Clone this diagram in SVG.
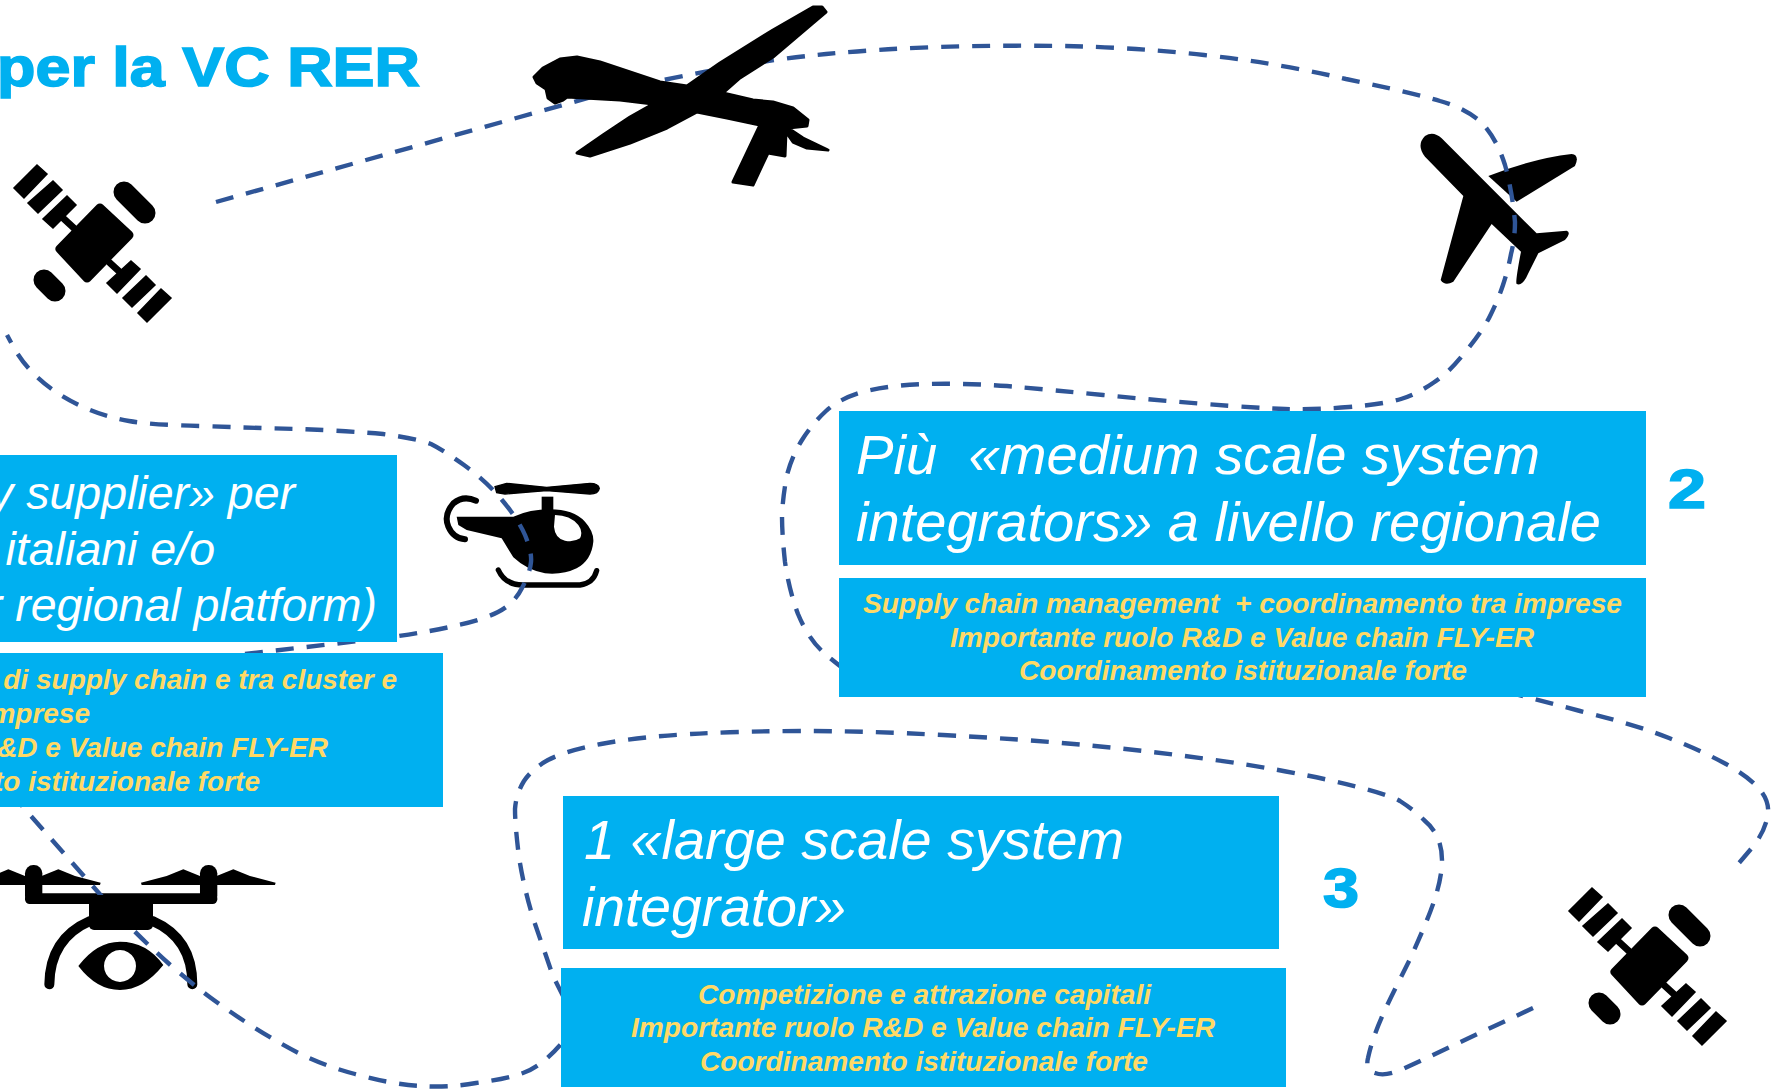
<svg xmlns="http://www.w3.org/2000/svg" width="1774" height="1091" viewBox="0 0 1774 1091">
<style>
.box{fill:#00B0F0}
.h{font-family:"Liberation Sans",Arial,sans-serif;font-style:italic;font-size:55px;fill:#fff}
.h2{font-size:46.5px}
.s{font-family:"Liberation Sans",Arial,sans-serif;font-style:italic;font-weight:bold;font-size:28px;fill:#FFD966}
.t{font-family:"Liberation Sans",Arial,sans-serif;font-weight:bold;font-size:56px;fill:#00B0F0;stroke:#00B0F0;stroke-width:1.6}
.c{fill:none;stroke:#2F5597;stroke-width:4.4;stroke-dasharray:18 13}
.k{fill:#000}
.l{fill:none;stroke:#000;stroke-linecap:round}
</style>
<defs>
<g id="sat">
<path class="k" stroke="#000" stroke-width="9" stroke-linejoin="round" d="M100,208L129,235L87,278L60,249Z"/>
<path class="k" stroke="#000" stroke-width="1.5" d="M37,165L47,174L24,198L14,188ZM53,181L62,190L38,213L28,203ZM67,196L76,205L53,228L43,219ZM131,261L140,269L117,293L107,283ZM146,276L155,285L132,307L123,298ZM161,289L171,298L147,322L138,313Z"/>
<path class="l" stroke-width="7" stroke-linecap="butt" d="M63,218L76,230M110,263L122,274"/>
<path class="l" stroke-width="21" d="M124,192L145,213M44,280L55,291"/>
</g>
</defs>
<rect width="1774" height="1091" fill="#fff"/>
<text class="t" x="-3" y="86" textLength="423" lengthAdjust="spacingAndGlyphs">per la VC RER</text>
<g id="node-sat-left"><use href="#sat"/></g>
<g id="node-sat-right"><use href="#sat" x="1555" y="723"/></g>
<g id="node-quad" transform="translate(0,850) scale(.3333)">
<path class="k" d="M125,78L175,58L225,78L302,98L300,105L125,105ZM75,78L25,58L-25,78L-102,98L-100,105L75,105ZM600,78L550,58L500,78L423,98L425,105L600,105ZM650,78L700,58L750,78L827,98L825,105L650,105Z"/>
<rect class="k" x="75" y="45" width="52" height="117" rx="25"/><rect class="k" x="600" y="45" width="52" height="117" rx="25"/><rect class="k" x="75" y="130" width="577" height="32" rx="14"/>
<path class="l" stroke-width="30" d="M270,213Q150,265 148,403M458,213Q577,265 577,403"/>
<path class="k" fill-rule="evenodd" d="M235,348Q290,275 360,275Q440,275 490,345Q430,420 360,420Q290,420 235,348ZM360,300a48,48 0 1 0 .1,0Z"/>
</g>
<g id="node-plane" transform="translate(1400,110) scale(.3333)">
<path class="k" d="M75,78Q100,62 125,85L410,370L500,362Q515,368 495,390L415,430L385,490Q368,530 350,522Q345,518 363,425L275,342L160,515Q135,530 122,510L190,258L75,140Q48,105 75,78Z"/>
<path class="k" d="M265,198Q400,145 515,132Q540,135 525,168L350,275Z"/>
</g>
<g id="node-heli" transform="translate(430,470) scale(.3333)">
<path class="k" stroke="#000" stroke-width="4" d="M195,50L230,40L350,52L480,40Q505,40 508,55Q505,72 480,72L350,62L225,72L200,68Z"/>
<rect class="k" x="335" y="80" width="35" height="45"/>
<path class="k" fill-rule="evenodd" d="M80,140L250,140Q300,118 360,118Q430,118 465,155Q492,185 490,215Q485,270 440,295Q400,315 345,310Q290,300 250,262L215,205L110,180L85,165ZM375,135Q420,135 445,165Q460,185 450,205Q430,218 405,212Q375,205 372,170Z"/>
<path class="l" stroke-width="18" stroke-linecap="butt" d="M138,92Q100,75 70,100Q40,135 55,170Q70,205 105,208"/>
<path class="l" stroke-width="16" d="M205,300Q225,345 280,345L450,345Q490,340 500,302"/>
</g>
<g id="connectors">
<path class="c" d="M216,202L595,96Q658,80 715,70Q773,59 826,54Q880,49 938,47Q996,45 1063,46Q1131,47 1204,55Q1278,63 1346,79Q1414,93 1440,101Q1465,108 1481,122Q1496,137 1505,165Q1512,190 1515,222Q1515,238 1511,254Q1508,270 1503,285Q1498,300 1491,314Q1484,329 1466,351Q1449,373 1433,383Q1417,394 1401,399Q1385,404 1349,407Q1314,410 1285,409Q1257,408 1205,404Q1154,400 1103,395Q1052,390 1007,386Q962,383 927,384Q892,385 866,391Q840,398 826,411Q812,424 802,440Q792,456 787,475Q783,495 782,515Q782,535 785,562Q789,590 798,614Q808,638 822,651Q837,665 860,680L1500,690L1580,711Q1637,725 1669,738Q1702,751 1726,764Q1751,778 1761,791Q1771,804 1767,819Q1763,835 1751,849L1739,863"/>
<path class="c" d="M1533,1008L1403,1069Q1385,1077 1375,1073Q1365,1070 1368,1058C1375,1025 1395,990 1411,957C1425,925 1442,890 1442,860Q1442,835 1424,820Q1414,810 1400,801Q1386,793 1333,781Q1280,769 1215,760Q1150,751 1085,745Q1020,739 943,735Q866,731 805,731Q744,731 691,734Q638,737 601,744Q565,751 548,760Q532,769 524,781Q516,794 515,809Q515,825 519,857Q524,889 534,921Q545,953 553,976L570,1010L590,1020L561,1044Q541,1067 523,1073Q506,1079 476,1083Q447,1088 421,1086Q395,1085 355,1074Q316,1064 280,1043Q245,1023 211,998Q178,973 154,950Q130,928 105,900L23,807L3,782"/>
<path class="c" d="M245,654L385,638Q435,631 458,625Q482,620 498,612Q514,604 522,588Q530,573 531,562Q532,552 525,535Q518,519 502,500Q486,481 464,465Q443,450 431,444Q419,439 383,434Q348,431 300,429Q253,428 202,426Q152,425 129,421Q107,417 90,410Q73,403 59,394Q45,385 33,373Q22,362 14,348L7,335"/>
</g>
<g id="node-quad-body"><rect class="k" x="89" y="895" width="64" height="35" rx="5"/></g>
<g id="node-uav"><path class="k" stroke="#000" stroke-width="3" stroke-linejoin="round" d="M534,77L543,68L560,59L577,57L600,62L630,72L660,82L687,86L720,63L773,30L813,7L822,7L826,12L813,23L773,57L740,78L723,93L753,100L773,102L793,108L808,120L807,126L788,128L803,138L828,150L807,148L793,142L786,132L785,156L768,153L753,185L733,182L760,125L727,118L697,112L667,128L630,143L590,156L577,153L603,135L630,117L653,104L620,100L567,97L563,100L555,103L548,98L546,89L537,83Z"/></g>
<g id="node-medium">
<rect class="box" x="839" y="411" width="807" height="154"/>
<text class="h" x="856" y="474" textLength="684" lengthAdjust="spacingAndGlyphs" xml:space="preserve">Più  «medium scale system</text>
<text class="h" x="856" y="541" textLength="745" lengthAdjust="spacingAndGlyphs">integrators» a livello regionale</text>
</g>
<g id="node-medium-sub">
<rect class="box" x="839" y="578" width="807" height="119"/>
<text class="s" x="863" y="613" textLength="759" lengthAdjust="spacingAndGlyphs" xml:space="preserve">Supply chain management  + coordinamento tra imprese</text>
<text class="s" x="950" y="647" textLength="584" lengthAdjust="spacingAndGlyphs">Importante ruolo R&amp;D e Value chain FLY-ER</text>
<text class="s" x="1019" y="680" textLength="448" lengthAdjust="spacingAndGlyphs">Coordinamento istituzionale forte</text>
</g>
<text id="num-2" class="t" x="1668" y="508" textLength="38" lengthAdjust="spacingAndGlyphs">2</text>
<g id="node-large">
<rect class="box" x="563" y="796" width="716" height="153"/>
<text class="h" x="584" y="859" textLength="540" lengthAdjust="spacingAndGlyphs">1 «large scale system</text>
<text class="h" x="582" y="926" textLength="264" lengthAdjust="spacingAndGlyphs">integrator»</text>
</g>
<g id="node-large-sub">
<rect class="box" x="561" y="968" width="725" height="119"/>
<text class="s" x="698" y="1004" textLength="453" lengthAdjust="spacingAndGlyphs">Competizione e attrazione capitali</text>
<text class="s" x="631" y="1037" textLength="584" lengthAdjust="spacingAndGlyphs">Importante ruolo R&amp;D e Value chain FLY-ER</text>
<text class="s" x="700" y="1071" textLength="448" lengthAdjust="spacingAndGlyphs">Coordinamento istituzionale forte</text>
</g>
<text id="num-3" class="t" x="1323" y="907" textLength="36" lengthAdjust="spacingAndGlyphs">3</text>
<g id="node-supplier">
<rect class="box" x="0" y="455" width="397" height="187"/>
<text class="h h2" x="295" y="509" text-anchor="end">y supplier» per</text>
<text class="h h2" x="215" y="565" text-anchor="end">italiani e/o</text>
<text class="h h2" x="377" y="621" text-anchor="end">r regional platform)</text>
</g>
<g id="node-supplier-sub">
<rect class="box" x="0" y="653" width="443" height="154"/>
<text class="s" x="397" y="689" text-anchor="end">di supply chain e tra cluster e</text>
<text class="s" x="90" y="723" text-anchor="end">mprese</text>
<text class="s" x="328" y="757" text-anchor="end">&amp;D e Value chain FLY-ER</text>
<text class="s" x="260" y="791" text-anchor="end">to istituzionale forte</text>
</g>
</svg>
